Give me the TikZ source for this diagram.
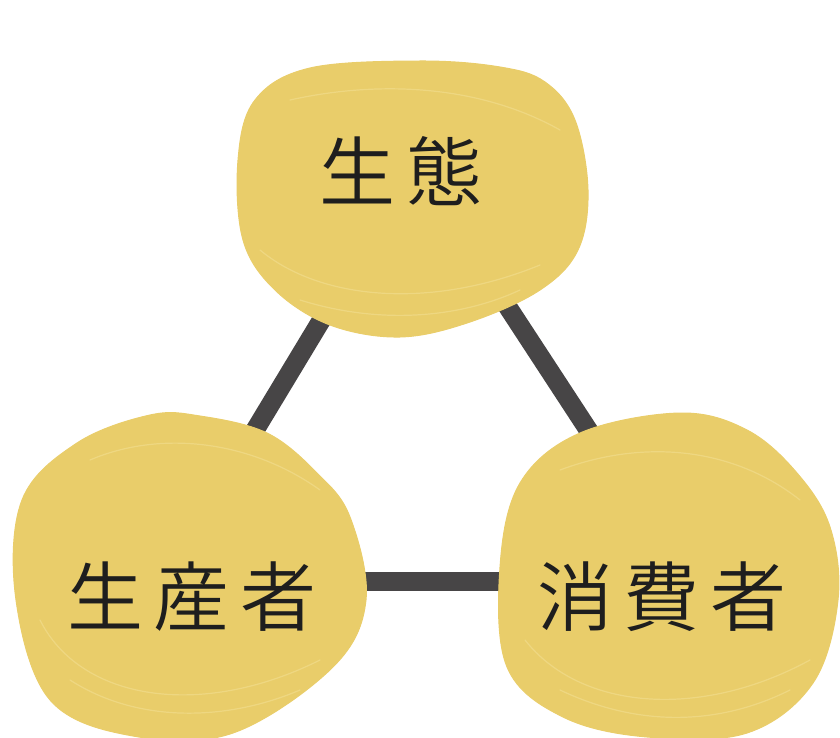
\documentclass[tikz,border=0pt]{standalone}
\usepackage{fontspec}
\newfontfamily\cjk[LetterSpace=14]{Noto Sans CJK JP DemiLight}
\definecolor{blob}{HTML}{E9CD6A}
\definecolor{blobhi}{HTML}{F1DC8C}
\definecolor{linec}{HTML}{474546}
\definecolor{txt}{HTML}{1E1E1E}
\begin{document}
\begin{tikzpicture}[x=1pt,y=-1pt,
  link/.style={draw=linec,line width=19pt},
  blobfill/.style={fill=blob,draw=blob,line width=1pt},
  hi/.style={draw=blobhi,line width=1.2pt,opacity=0.7,line cap=round},
  lbl/.style={font=\cjk\fontsize{76}{76}\selectfont,text=txt,inner sep=0pt}]
\useasboundingbox (0,0) rectangle (840,738);
% triangle vertices
\coordinate (A) at (415,165);
\coordinate (B) at (164,581);
\coordinate (C) at (687,581);
\draw[link] (A) -- (B);
\draw[link] (A) -- (C);
\draw[link] (B) -- (C);
% top blob
\fill[blobfill] plot[smooth cycle,tension=0.6] coordinates{(238,160) (255,100) (310,68) (420,61) (500,67) (545,82) (575,120) (588,190) (578,250) (540,290) (470,322) (400,337) (330,325) (275,290) (243,240)};
% left blob
\fill[blobfill] plot[smooth cycle,tension=0.6] coordinates{(150,415) (77,443) (22,500) (16,600) (50,700) (133,736) (233,733) (333,667) (366,600) (350,517) (317,473) (267,433) (200,416)};
% right blob
\fill[blobfill] plot[smooth cycle,tension=0.6] coordinates{(680,413) (580,433) (520,483) (500,567) (507,667) (563,717) (647,737) (747,733) (813,683) (838,600) (830,527) (797,473) (747,430)};
% brush highlights
\draw[hi] (260,250) .. controls (320,300) and (430,310) .. (540,265);
\draw[hi] (300,300) .. controls (380,325) and (460,318) .. (520,290);
\draw[hi] (290,100) .. controls (380,80) and (480,85) .. (560,130);
\draw[hi] (40,620) .. controls (80,700) and (200,720) .. (320,660);
\draw[hi] (70,680) .. controls (140,725) and (230,720) .. (300,690);
\draw[hi] (90,460) .. controls (160,430) and (250,440) .. (320,490);
\draw[hi] (525,640) .. controls (580,710) and (700,720) .. (810,660);
\draw[hi] (560,690) .. controls (640,728) and (720,725) .. (790,690);
\draw[hi] (560,470) .. controls (640,440) and (730,445) .. (800,500);
% labels
\node[lbl] (eco) at (401,171) {生態};
\node[lbl] (prod) at (192,597) {生産者};
\node[lbl] (cons) at (662,597) {消費者};
\end{tikzpicture}
\end{document}
